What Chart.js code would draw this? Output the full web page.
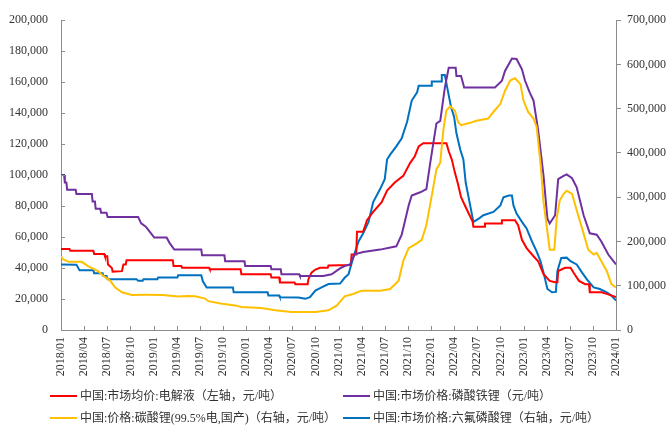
<!DOCTYPE html>
<html><head><meta charset="utf-8">
<script src="https://cdn.jsdelivr.net/npm/chart.js@4/dist/chart.umd.min.js"></script>
<style>
html,body{margin:0;padding:0;background:#fff;}
#wrap{position:relative;width:668px;height:430px;overflow:hidden;}
canvas{position:absolute;left:0;top:0;}
.lg{position:absolute;font-family:"Liberation Serif","Noto Sans CJK SC",serif;font-size:12px;color:#333;white-space:nowrap;line-height:14px;}
.sw{position:absolute;height:2px;width:27px;}
</style></head><body>
<div id="wrap">
<canvas id="c" width="668" height="430"></canvas>
<div class="sw" style="left:50px;top:395px;background:#FF0000"></div>
<div class="lg" id="l0" style="left:80px;top:389px"></div>
<div class="sw" style="left:343px;top:395px;background:#7030A0"></div>
<div class="lg" id="l1" style="left:373px;top:389px"></div>
<div class="sw" style="left:50px;top:417px;background:#FFC000"></div>
<div class="lg" id="l2" style="left:80px;top:411px"></div>
<div class="sw" style="left:343px;top:417px;background:#0070C0"></div>
<div class="lg" id="l3" style="left:373px;top:411px"></div>
</div>
<script>
// x positions are months counted from 2018/01 (0 = 2018/01, 72 = 2024/01)
const seriesNames = [
  "中国:市场均价:电解液（左轴，元/吨）",
  "中国:市场价格:磷酸铁锂（元/吨）",
  "中国:价格:碳酸锂(99.5%电,国产)（右轴，元/吨）",
  "中国:市场价格:六氟磷酸锂（右轴，元/吨）"
];
const xTickMonths = [0,3,6,9,12,15,18,21,24,27,30,33,36,39,42,45,48,51,54,57,60,63,66,69,72];
const xTickLabels = ["2018/01","2018/04","2018/07","2018/10","2019/01","2019/04","2019/07","2019/10",
  "2020/01","2020/04","2020/07","2020/10","2021/01","2021/04","2021/07","2021/10",
  "2022/01","2022/04","2022/07","2022/10","2023/01","2023/04","2023/07","2023/10","2024/01"];
const leftTicks = [0,20000,40000,60000,80000,100000,120000,140000,160000,180000,200000];
const rightTicks = [0,100000,200000,300000,400000,500000,600000,700000];

// 电解液 (left axis)
const elecM = [0,1.1,1.2,4.2,4.3,5.6,5.7,6.0,6.1,6.6,6.7,7.9,8.1,8.4,8.5,14.5,14.6,15.6,15.7,19.2,19.3,23.3,23.4,27.2,27.3,28.3,28.4,30.3,30.4,32.0,32.1,32.5,33.0,33.6,34.6,34.7,37.6,37.7,38.3,38.4,39.2,39.7,40.5,41.6,42.3,43.3,44.4,45.3,45.9,46.4,47.0,50.0,50.3,50.7,51.1,51.5,51.9,52.4,52.8,53.4,53.5,54.9,55.0,57.1,57.2,58.9,59.3,59.8,60.4,61.3,61.9,62.6,63.4,64.1,64.4,64.5,65.4,66.1,66.5,67.2,68.0,68.5,68.6,70.1,70.8,72];
const elecV = [52300,52300,51200,51200,49100,49100,47600,47600,42300,40000,37700,38000,42300,42300,45100,45100,41300,41300,40200,40200,39200,39200,36000,36000,33900,33900,30700,30700,29600,29600,32800,37000,39000,40200,40200,41700,41900,48700,48700,63500,63500,70900,76200,82500,90000,95200,99500,107900,112200,118500,120600,120600,115400,110000,101600,94200,85700,80400,76200,70000,66700,66700,68800,68800,70900,70900,67700,58200,52900,47600,44400,36000,31700,30900,30900,38100,40200,40200,37000,31700,29600,29600,24300,24300,23300,21200];

// 磷酸铁锂 (left axis)
const lfpM = [0,0.4,0.5,0.7,0.8,1.9,2.0,4.0,4.1,4.4,4.5,5.1,5.2,5.9,6.05,10.0,10.4,11.0,11.5,12.1,13.7,14.1,14.7,18.2,18.3,21.2,21.3,23.8,23.9,27.2,27.3,28.5,28.6,30.9,31.0,34.0,35.1,36.2,36.8,37.5,38.1,39.2,41.4,43.5,44.2,45.1,45.5,46.6,47.4,47.9,48.7,49.2,49.8,50.3,51.2,51.3,51.9,52.3,56.3,57.2,57.6,58.5,59.1,59.8,60.2,60.8,61.3,61.9,62.6,63.1,63.4,64.1,64.5,65.2,65.6,66.3,66.9,67.8,68.6,69.5,70.1,71.0,72];
const lfpV = [100000,100000,95200,95200,90600,90600,87800,87800,83000,83000,78300,78300,75700,75700,73000,73000,68800,66700,63500,59700,59700,56100,51900,51900,48250,48250,44400,44400,41300,41300,39200,39200,36000,36000,34900,34900,36000,39800,41300,42300,48900,50300,51900,54000,61500,80400,86800,88900,91000,107900,133300,135000,156600,169300,169300,164000,164000,156600,156600,160900,167200,175200,175000,168300,160900,153400,148100,129100,99500,71900,68800,74100,97400,99500,100500,98000,92100,74100,62400,61500,57100,48700,42300];

// 碳酸锂 (right axis)
const li2co3M = [0,0.3,1.0,2.7,3.5,4.8,5.5,6.4,7.0,7.9,9.2,10.9,13.2,15.2,16.5,17.4,18.7,19.1,20.9,22.6,23.4,26.0,27.8,29.9,33.0,34.7,35.8,36.4,36.8,37.9,39.0,41.4,42.7,43.8,44.4,45.1,46.2,46.8,47.4,48.1,48.7,49.2,49.6,50.0,50.5,51.1,51.5,51.9,53.1,53.9,55.4,56.1,57.0,57.6,58.3,58.9,59.6,60.0,60.6,61.3,61.7,62.2,62.6,63.1,63.4,64.0,64.3,64.7,65.2,65.6,66.3,66.9,67.6,68.4,69.1,69.5,70.1,70.8,71.4,72];
const li2co3V = [166700,159300,154000,154000,144400,133300,122200,111100,96300,85100,79300,79600,79300,75600,76700,76000,71000,65200,59300,55600,51800,49600,44400,40700,40700,44400,55600,68000,76000,81500,88900,88900,92600,111100,155600,185100,196300,203700,237000,303700,362900,377800,451800,496200,505200,496000,470400,462900,468100,472600,477800,492600,511100,540700,564400,568900,555600,518400,492600,477800,459300,377800,288900,222200,181500,181500,251800,292600,307300,314800,307300,270400,229600,181500,170400,174100,155600,133300,103700,96300];

// 六氟磷酸锂 (right axis)
const lipf6M = [0,2.0,2.4,4.2,4.3,5.4,5.5,5.9,6.05,9.8,10.0,10.6,10.7,12.5,12.6,15.1,15.2,18.2,18.4,18.9,22.3,22.4,26.8,26.9,28.3,28.4,30.8,31.7,32.3,33.0,33.8,34.7,36.2,36.8,37.3,37.9,38.6,39.2,39.9,40.5,41.4,42.0,42.3,42.7,43.5,44.2,44.9,45.5,46.2,46.4,48.0,48.1,49.3,49.4,49.8,50.1,50.6,51.0,51.3,51.8,52.2,52.5,53.1,53.5,54.2,54.8,56.1,57.0,57.4,58.1,58.5,58.7,59.1,59.8,60.4,61.1,61.7,62.2,62.6,63.1,63.7,64.2,64.4,64.9,65.6,66.1,66.9,67.6,68.2,69.1,69.9,70.8,71.4,72];
const lipf6V = [148200,147700,134900,134900,128200,128200,122200,122200,114900,114900,111100,111100,114900,114900,118400,118400,123700,123700,110000,96200,96200,85100,85100,77800,77800,74000,73300,70400,74000,88900,96300,103700,105000,118000,126000,162900,200000,218400,244400,288900,318400,340700,385100,396200,414800,433300,470400,518400,537100,551800,551800,561500,561500,576200,576200,548100,503800,481500,444400,407300,385100,333300,280000,244400,251800,259300,266700,281500,300000,303700,303700,281500,262900,244400,229600,200000,177800,155600,129600,92600,85100,86000,133300,162900,163500,155600,148100,129600,114800,96300,92600,85100,77800,66700];

const colors = ["#FF0000","#7030A0","#FFC000","#0070C0"];
seriesNames.forEach((n,i)=>document.getElementById('l'+i).textContent=n);

const pts = (m,v)=>m.map((x,i)=>({x:x,y:v[i]}));
const fmt = v => Number(v).toLocaleString('en-US');
const axisColor = '#8c8c8c';
const tickFont = {family:'"Liberation Serif","Times New Roman",serif', size:12};

const innerTicks = {
  id:'innerTicks',
  afterDraw(chart){
    const ctx=chart.ctx, a=chart.chartArea, y=chart.scales.y, x=chart.scales.x;
    ctx.save(); ctx.strokeStyle=axisColor; ctx.lineWidth=1; ctx.beginPath();
    y.ticks.forEach(t=>{const p=Math.round(y.getPixelForValue(t.value))+0.5; ctx.moveTo(a.left,p); ctx.lineTo(a.left+4,p);});
    x.ticks.forEach(t=>{const p=Math.round(x.getPixelForValue(t.value))+0.5; ctx.moveTo(p,a.bottom); ctx.lineTo(p,a.bottom-4);});
    ctx.stroke(); ctx.restore();
  }
};

const ds = (i,m,v,axis)=>({label:seriesNames[i],data:pts(m,v),yAxisID:axis,borderColor:colors[i],backgroundColor:colors[i],borderWidth:2,pointRadius:0,tension:0,fill:false});

new Chart(document.getElementById('c'),{
  type:'line',
  data:{datasets:[
    ds(2,li2co3M,li2co3V,'y2'),
    ds(1,lfpM,lfpV,'y'),
    ds(0,elecM,elecV,'y'),
    ds(3,lipf6M,lipf6V,'y2')
  ]},
  options:{
    responsive:false, animation:false, devicePixelRatio:1,
    layout:{padding:{top:15,left:0,right:0,bottom:0}},
    plugins:{legend:{display:false},tooltip:{enabled:false}},
    scales:{
      x:{type:'linear',min:0,max:72,
        afterBuildTicks:s=>{s.ticks=xTickMonths.map(v=>({value:v}));},
        afterFit:s=>{s.height=100;},
        grid:{display:false,drawTicks:false},
        border:{display:true,color:axisColor,width:1},
        ticks:{autoSkip:false,maxRotation:90,minRotation:90,padding:7,font:tickFont,color:'#333',
          callback:(v)=>{const k=xTickMonths.indexOf(v);return k>=0?xTickLabels[k]:'';}}
      },
      y:{position:'left',min:0,max:200000,
        afterBuildTicks:s=>{s.ticks=leftTicks.map(v=>({value:v}));},
        afterFit:s=>{s.width=61;},
        grid:{display:false,drawTicks:false},
        border:{display:true,color:axisColor,width:1},
        ticks:{padding:13,font:tickFont,color:'#333',callback:fmt}
      },
      y2:{position:'right',min:0,max:700000,
        afterBuildTicks:s=>{s.ticks=rightTicks.map(v=>({value:v}));},
        afterFit:s=>{s.width=52;},
        grid:{display:true,drawOnChartArea:false,drawTicks:true,tickLength:5,color:axisColor},
        border:{display:true,color:axisColor,width:1},
        ticks:{padding:6,font:tickFont,color:'#333',callback:fmt}
      }
    }
  },
  plugins:[innerTicks]
});
</script>
</body></html>
